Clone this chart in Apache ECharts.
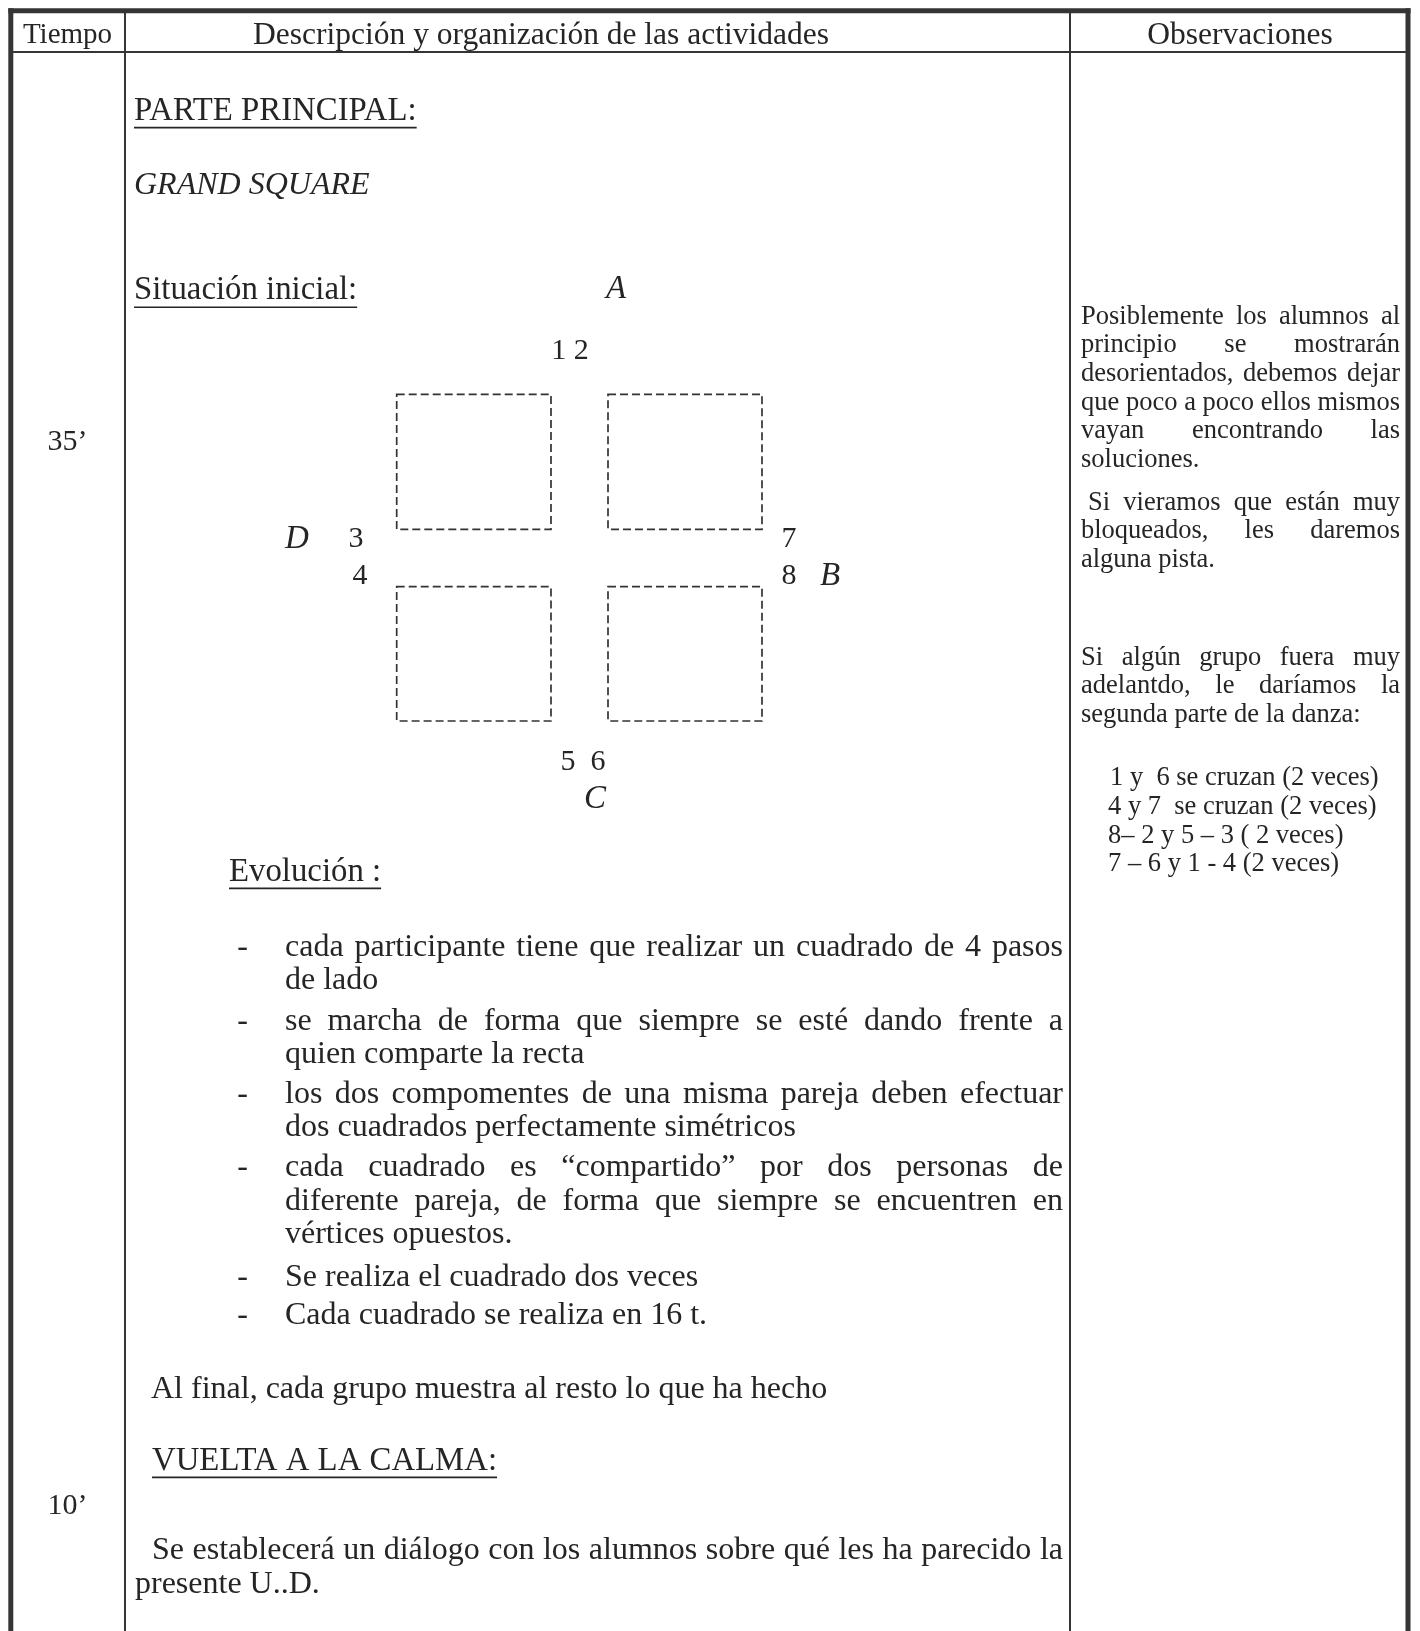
<!DOCTYPE html>
<html>
<head>
<meta charset="utf-8">
<script src="https://cdn.jsdelivr.net/npm/echarts@6/dist/echarts.min.js"></script>
<style>
html,body{margin:0;padding:0;background:#ffffff;}
#chart{width:1420px;height:1631px;}
</style>
</head>
<body>
<div id="chart"></div>
<script>
// ================= DATA (texts of the document) =================
const headerLabels = ['Tiempo', 'Descripción y organización de las actividades', 'Observaciones'];
const timeLabels = ['35’', '10’'];
const sectionTitles = ['PARTE PRINCIPAL:', 'Situación inicial:', 'Evolución :', 'VUELTA A LA CALMA:'];
const danceTitle = ['GRAND SQUARE'];
const wallLetters = ['A', 'B', 'C', 'D'];
const dancerNumbers = ['1 2', '3', '4', '5  6', '7', '8'];
const evolutionItems = [
  ['cada participante tiene que realizar un cuadrado de 4 pasos', 'de lado'],
  ['se marcha de forma que siempre se esté dando frente a', 'quien comparte la recta'],
  ['los dos compomentes de una misma pareja deben efectuar', 'dos cuadrados perfectamente simétricos'],
  ['cada cuadrado es “compartido” por dos personas de', 'diferente pareja, de forma que siempre se encuentren en', 'vértices opuestos.'],
  ['Se realiza el cuadrado dos veces'],
  ['Cada cuadrado se realiza en 16 t.']
];
const closingLines = ['Al final, cada grupo muestra al resto lo que ha hecho'];
const calmLines = ['Se establecerá un diálogo con los alumnos sobre qué les ha parecido la', 'presente U..D.'];
const observationLines = [
  'Posiblemente los alumnos al', 'principio se mostrarán', 'desorientados, debemos dejar',
  'que poco a poco ellos mismos', 'vayan encontrando las', 'soluciones.',
  ' Si vieramos que están muy', 'bloqueados, les daremos', 'alguna pista.',
  'Si algún grupo fuera muy', 'adelantdo, le daríamos la', 'segunda parte de la danza:'
];
const variationLines = ['1 y  6 se cruzan (2 veces)', '4 y 7  se cruzan (2 veces)', '8– 2 y 5 – 3 ( 2 veces)', '7 – 6 y 1 - 4 (2 veces)'];

// ================= LAYOUT (document coordinates on hidden axes) =================
const W = 1420, H = 1631;
const FAMILY = '"Liberation Serif","Times New Roman",serif';
const TEXT_COLOR = '#252525';
const RULE_COLOR = '#353535';
const fonts = {
  header: { size: 31.5, italic: false },
  tiempo: { size: 29, italic: false },
  time: { size: 30, italic: false },
  body: { size: 32, italic: false },
  title: { size: 32.8, italic: false },
  italic: { size: 32, italic: true },
  letter: { size: 33, italic: true },
  num: { size: 30, italic: false },
  obs: { size: 26.5, italic: false }
};
function fontOf(kind) {
  const f = fonts[kind];
  return (f.italic ? 'italic ' : '') + f.size + 'px ' + FAMILY;
}

const headerPos = [[67.5, 35.5, 'tiempo'], [541, 35.5, 'header'], [1240, 35.5, 'header']];
const timePos = [[67.5, 442], [67.5, 1506]];
const sectionPos = [[134, 111.2], [134, 290.8], [229, 872], [152, 1461]];
const dancePos = [[134, 185.7]];
const letterPos = [[616, 289.8], [830, 576], [595, 799], [297, 539.5]];
const numberPos = [[570, 351], [356, 539.5], [360, 576], [583, 762.5], [789, 539.5], [789, 576]];
const evoDashX = 242.5, evoLeft = 285, evoRight = 1063;
const evoRows = [[947.2, 980.3], [1021.2, 1054.3], [1094.2, 1127.3], [1168, 1201.2, 1234.3], [1277.2], [1315.2]];
const closingPos = [[151, 1389.2]];
const calmPos = [[152, 1550.8, 1063], [135, 1584.6]];
const obsLeft = 1081, obsRight = 1400;
const obsRows = [316.7, 345.4, 374.1, 402.8, 431.5, 460.2, 502.7, 531.4, 560.1, 657.7, 686.4, 715.1];
const obsJustified = [true, true, true, true, true, false, true, true, false, true, true, false];
const obsIndent = [0, 0, 0, 0, 0, 0, 7, 0, 0, 0, 0, 0];
const variationPos = [[1110, 778.2], [1108, 806.9], [1108, 835.6], [1108, 864.3]];

// table rules: [x1, y1, x2, y2]
const outerRules = [[8.3, 10.8, 1410.5, 10.8], [10.8, 8.3, 10.8, H], [1408, 8.3, 1408, H]];
const innerRules = [[10.8, 52, 1408, 52], [125, 10.8, 125, H], [1070, 10.8, 1070, H]];
// dashed squares: [x1, y1, x2, y2]
const squares = [[396.7, 394.3, 551, 529.3], [608, 394.3, 762, 529.3], [396.7, 586.7, 551, 721], [608, 586.7, 762, 721]];

// ================= BUILD TEXT ITEMS =================
const textItems = [];
headerLabels.forEach((t, i) => textItems.push({ text: t, x: headerPos[i][0], y: headerPos[i][1], kind: headerPos[i][2], align: 'center' }));
timeLabels.forEach((t, i) => textItems.push({ text: t, x: timePos[i][0], y: timePos[i][1], kind: 'time', align: 'center' }));
sectionTitles.forEach((t, i) => textItems.push({ text: t, x: sectionPos[i][0], y: sectionPos[i][1], kind: 'title', underline: true }));
danceTitle.forEach((t, i) => textItems.push({ text: t, x: dancePos[i][0], y: dancePos[i][1], kind: 'italic' }));
wallLetters.forEach((t, i) => textItems.push({ text: t, x: letterPos[i][0], y: letterPos[i][1], kind: 'letter', align: 'center' }));
dancerNumbers.forEach((t, i) => textItems.push({ text: t, x: numberPos[i][0], y: numberPos[i][1], kind: 'num', align: 'center' }));
evolutionItems.forEach((lines, i) => {
  textItems.push({ text: '-', x: evoDashX, y: evoRows[i][0], kind: 'body', align: 'center' });
  lines.forEach((t, j) => {
    const last = j === lines.length - 1;
    textItems.push({ text: t, x: evoLeft, y: evoRows[i][j], x2: last ? null : evoRight, kind: 'body', justify: !last });
  });
});
closingLines.forEach((t, i) => textItems.push({ text: t, x: closingPos[i][0], y: closingPos[i][1], kind: 'body' }));
calmLines.forEach((t, i) => textItems.push({ text: t, x: calmPos[i][0], y: calmPos[i][1], x2: calmPos[i][2] || null, kind: 'body', justify: !!calmPos[i][2] }));
observationLines.forEach((t, i) => textItems.push({ text: t, x: obsLeft + obsIndent[i], y: obsRows[i], x2: obsJustified[i] ? obsRight : null, kind: 'obs', justify: obsJustified[i] }));
variationLines.forEach((t, i) => textItems.push({ text: t, x: variationPos[i][0], y: variationPos[i][1], kind: 'obs' }));

// ================= RENDERING =================
const measureCtx = document.createElement('canvas').getContext('2d');
function textWidth(str, font) { measureCtx.font = font; return measureCtx.measureText(str).width; }
function txt(str, x, y, font, align) {
  return {
    type: 'text', x: x, y: y,
    style: { text: str, x: 0, y: 0, font: font, fill: TEXT_COLOR,
      textAlign: align, align: align, textVerticalAlign: 'middle', verticalAlign: 'middle' }
  };
}
function renderText(params, api) {
  const it = textItems[params.dataIndex];
  const p = api.coord([api.value(0), api.value(1)]);
  const font = fontOf(it.kind);
  const children = [];
  if (it.justify) {
    const pr = api.coord([api.value(2), api.value(1)]);
    const words = it.text.trim().split(/\s+/);
    const ws = words.map(w => textWidth(w, font));
    const total = ws.reduce((a, b) => a + b, 0);
    const gap = words.length > 1 ? (pr[0] - p[0] - total) / (words.length - 1) : 0;
    let cx = p[0];
    words.forEach((w, k) => { children.push(txt(w, cx, p[1], font, 'left')); cx += ws[k] + gap; });
  } else {
    children.push(txt(it.text, p[0], p[1], font, it.align || 'left'));
  }
  if (it.underline) {
    const w = textWidth(it.text, font);
    const x0 = it.align === 'center' ? p[0] - w / 2 : p[0];
    const uy = p[1] + fonts[it.kind].size * 0.5;
    children.push({ type: 'line', shape: { x1: x0, y1: uy, x2: x0 + w, y2: uy }, style: { stroke: TEXT_COLOR, lineWidth: 1.6 } });
  }
  return { type: 'group', children: children };
}
function ruleRenderer(width) {
  return function (params, api) {
    const a = api.coord([api.value(0), api.value(1)]);
    const b = api.coord([api.value(2), api.value(3)]);
    return { type: 'line', shape: { x1: a[0], y1: a[1], x2: b[0], y2: b[1] }, style: { stroke: RULE_COLOR, lineWidth: width } };
  };
}
function renderSquare(params, api) {
  const a = api.coord([api.value(0), api.value(1)]);
  const b = api.coord([api.value(2), api.value(3)]);
  return { type: 'rect', shape: { x: a[0], y: a[1], width: b[0] - a[0], height: b[1] - a[1] },
    style: { fill: 'none', stroke: '#333333', lineWidth: 1.7, lineDash: [8, 4] } };
}

const chart = echarts.init(document.getElementById('chart'), null, { renderer: 'canvas' });
chart.setOption({
  backgroundColor: '#ffffff',
  animation: false,
  grid: { left: 0, right: 0, top: 0, bottom: 0 },
  xAxis: { type: 'value', min: 0, max: W, show: false },
  yAxis: { type: 'value', min: 0, max: H, inverse: true, show: false },
  tooltip: { show: false },
  series: [
    { type: 'custom', name: 'outer', silent: true, clip: false, renderItem: ruleRenderer(5), encode: { x: [0, 2], y: [1, 3] }, data: outerRules },
    { type: 'custom', name: 'inner', silent: true, clip: false, renderItem: ruleRenderer(2), encode: { x: [0, 2], y: [1, 3] }, data: innerRules },
    { type: 'custom', name: 'squares', silent: true, clip: false, renderItem: renderSquare, encode: { x: [0, 2], y: [1, 3] }, data: squares },
    { type: 'custom', name: 'texts', silent: true, clip: false, renderItem: renderText, encode: { x: [0, 2], y: 1 },
      data: textItems.map(it => [it.x, it.y, it.x2 == null ? it.x : it.x2]) }
  ]
});
</script>
</body>
</html>
